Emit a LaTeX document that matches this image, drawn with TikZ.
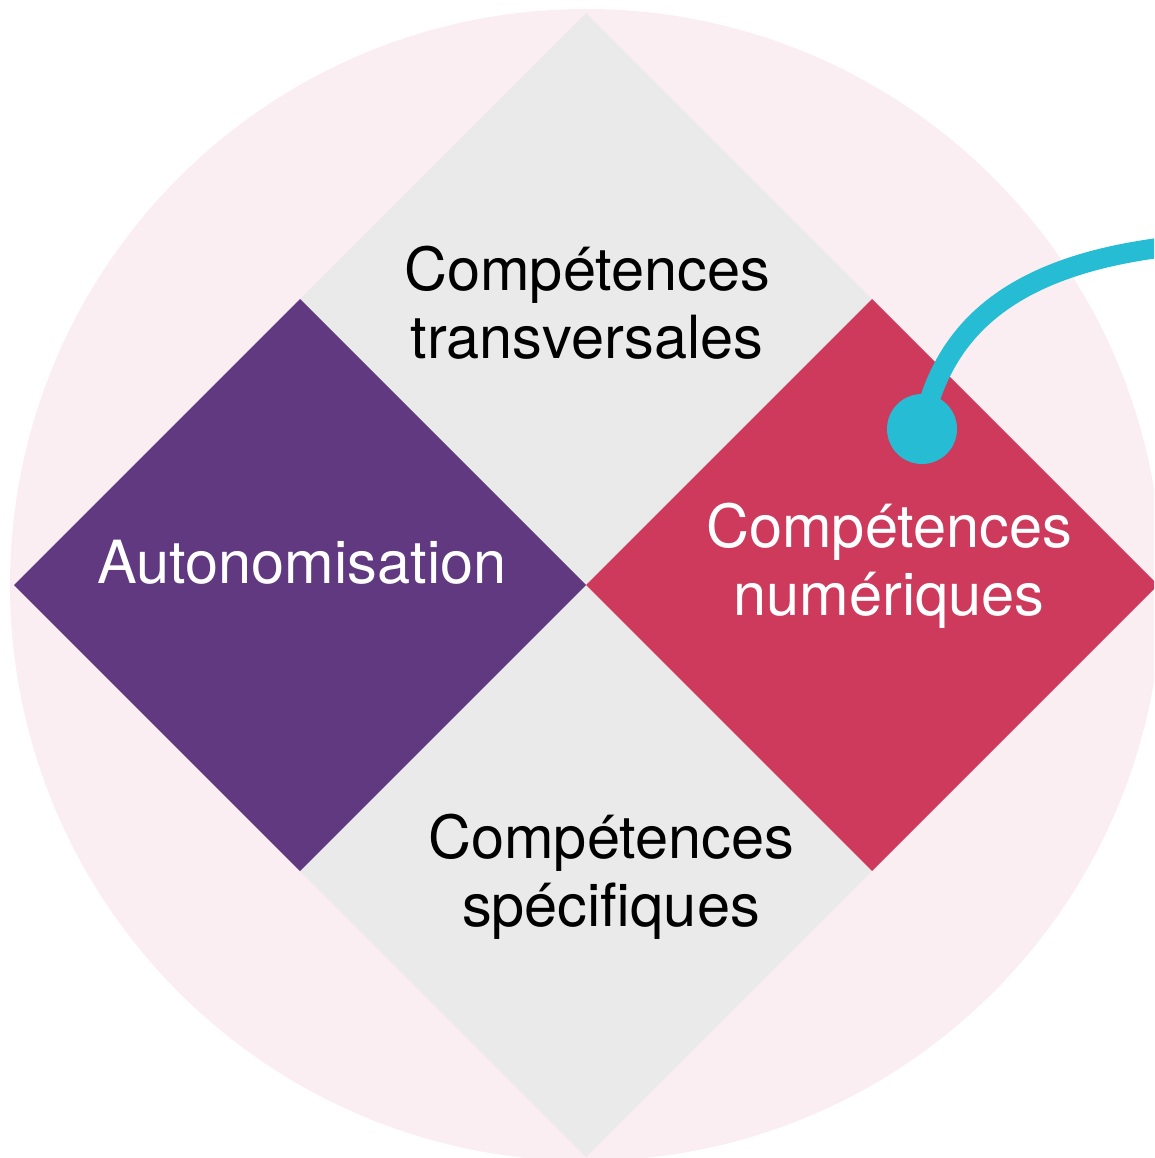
\documentclass[tikz,border=0pt]{standalone}
\usepackage{fontspec}
\setmainfont{TeX Gyre Heros}
\usetikzlibrary{positioning}
\usetikzlibrary{shapes.geometric}

\definecolor{rosefond}{RGB}{250,238,242}
\definecolor{grisclair}{RGB}{234,234,234}
\definecolor{violet}{RGB}{96,57,128}
\definecolor{framboise}{RGB}{206,58,92}
\definecolor{turquoise}{RGB}{37,188,212}

\begin{document}
\begin{tikzpicture} [
    x=1pt, y=-1pt,                 % pixel-like units, y going down
    ]
% -------------------------------------------------
\tikzset{
  losange/.style={diamond, aspect=1, minimum width=572pt, minimum height=572pt, inner sep=0pt, outer sep=0pt},
  txt/.style={font=\fontsize{59.5}{68}\selectfont, align=center, inner sep=0pt, anchor=base},
  lien/.style={draw=turquoise, line width=20pt},
  pastille/.style={circle, fill=turquoise, minimum size=70pt, inner sep=0pt},
}
    \useasboundingbox (0,0) rectangle (1154,1158);
    \clip (0,0) rectangle (1154,1158);

    % background disc
    \fill [rosefond] (586,585) circle (576pt);

    \coordinate (centre) at (586,585);
    \node [losange, fill=grisclair, above=0pt of centre] (transv) {};
    \node [losange, fill=grisclair, below=0pt of centre] (specif) {};
    \node [losange, fill=violet, left=0pt of centre] (autonom) {};
    \node [losange, fill=framboise, right=0pt of centre] (numer) {};

    % base = baseline of the last line
    \node [txt] (t-transv) at (587,358) {Compétences\\transversales};
    \node [txt, text=white] (t-autonom) at (302,583) {Autonomisation};
    \node [txt, text=white] (t-numer) at (889,615) {Compétences\\numériques};
    \node [txt] (t-specif) at (611,926) {Compétences\\spécifiques};

    % callout
    \coordinate (ancre) at (922,429);
    \coordinate (sortie) at (1166,247);
    \draw [lien] (ancre) .. controls (941,336) and (1002,267) .. (sortie);
    \node [pastille] (point) at (ancre) {};

\end{tikzpicture}
\end{document}
